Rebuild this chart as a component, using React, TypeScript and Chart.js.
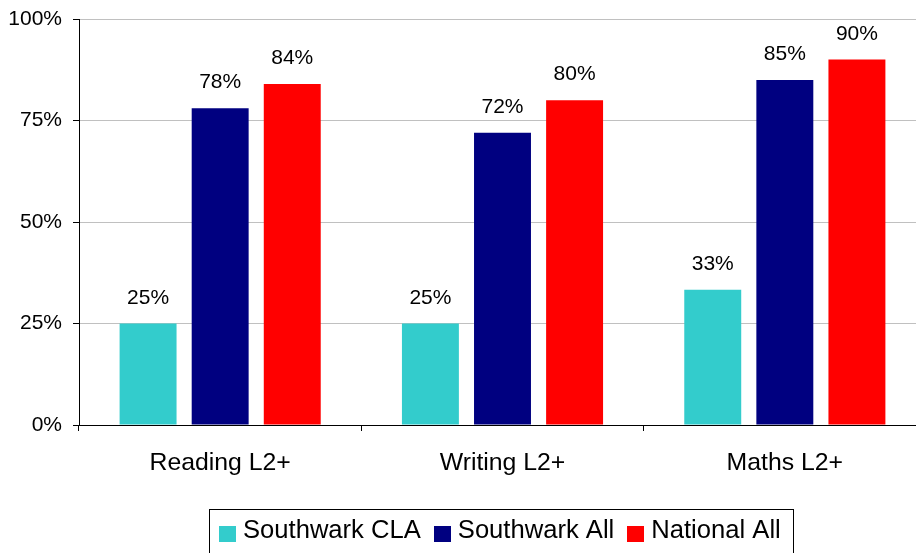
import React, { useEffect, useRef } from 'react';
import { Chart, registerables } from 'chart.js';

Chart.register(...registerables);

const categories = ['Reading L2+', 'Writing L2+', 'Maths L2+'];
const seriesNames = ['Southwark CLA', 'Southwark All', 'National All'];
const southwarkCLA = [25, 25, 33.3];
const southwarkAll = [78, 72, 85];
const nationalAll = [84, 80, 90];
const seriesColors = ['#33CCCC', '#000080', '#FF0000'];
const yMin = 0;
const yMax = 100;
const yStep = 25;

const FAMILY = "'Liberation Sans', Arial, sans-serif";

const dataLabelPlugin = {
  id: 'dataLabels',
  afterDatasetsDraw(chart: any) {
    const ctx = chart.ctx;
    ctx.save();
    ctx.font = `21px ${FAMILY}`;
    ctx.fillStyle = '#000';
    ctx.textAlign = 'center';
    ctx.textBaseline = 'alphabetic';
    chart.data.datasets.forEach((ds: any, i: number) => {
      const meta = chart.getDatasetMeta(i);
      meta.data.forEach((el: any, j: number) => {
        const v = ds.data[j];
        ctx.fillText(Math.round(v) + '%', el.x, el.y - 20);
      });
    });
    ctx.restore();
  },
};

const boxLegendPlugin = {
  id: 'boxLegend',
  afterDraw(chart: any) {
    const ctx = chart.ctx;
    ctx.save();
    ctx.font = `25.6px ${FAMILY}`;
    const items = chart.data.datasets.map((ds: any) => ({
      label: ds.label,
      color: ds.backgroundColor,
      w: ctx.measureText(ds.label).width,
    }));
    const sw = 17, gapT = 7, gapI = 13, padL = 10, padR = 12;
    const inner = items.reduce(
      (a: number, it: any, i: number) => a + sw + gapT + it.w + (i > 0 ? gapI : 0),
      0
    );
    const total = padL + inner + padR;
    const cx = (chart.chartArea.left + chart.chartArea.right) / 2 - 1.5;
    const left = Math.round(cx - total / 2);
    const top = chart.chartArea.bottom + 84;
    ctx.fillStyle = '#fff';
    ctx.fillRect(left, top, total, 60);
    ctx.strokeStyle = '#000';
    ctx.lineWidth = 1;
    ctx.strokeRect(left + 0.5, top + 0.5, Math.round(total), 60);
    let x = left + padL;
    ctx.textBaseline = 'alphabetic';
    ctx.textAlign = 'left';
    items.forEach((it: any, i: number) => {
      if (i > 0) x += gapI;
      ctx.fillStyle = it.color;
      ctx.fillRect(Math.round(x), top + 17, sw, 16);
      x += sw + gapT;
      ctx.fillStyle = '#000';
      ctx.fillText(it.label, x, top + 29);
      x += it.w;
    });
    ctx.restore();
  },
};

export default function App() {
  const ref = useRef<HTMLCanvasElement | null>(null);

  useEffect(() => {
    if (!ref.current) return;
    const seriesData = [southwarkCLA, southwarkAll, nationalAll];
    const chart = new Chart(ref.current, {
      type: 'bar',
      data: {
        labels: categories,
        datasets: seriesNames.map((name, i) => ({
          label: name,
          data: seriesData[i],
          backgroundColor: seriesColors[i],
          borderWidth: 0,
          categoryPercentage: 0.766,
          barPercentage: 0.79,
        })),
      },
      options: {
        responsive: false,
        animation: false,
        devicePixelRatio: 1,
        layout: { padding: { left: 0, right: 0, top: 19, bottom: 64 } },
        plugins: {
          legend: { display: false },
          tooltip: { enabled: false },
        },
        scales: {
          x: {
            grid: {
              display: true,
              drawOnChartArea: false,
              offset: true,
              tickLength: 6,
              color: '#000',
              tickColor: '#000',
            },
            border: { color: '#000', width: 1 },
            ticks: {
              font: { family: FAMILY, size: 24.8 },
              color: '#000',
              padding: 17,
              maxRotation: 0,
            },
            afterFit: (s: any) => {
              s.height = 64;
              s.paddingLeft = 0;
              s.paddingRight = 0;
            },
          },
          y: {
            min: yMin,
            max: yMax,
            ticks: {
              stepSize: yStep,
              callback: (v: any) => v + '%',
              font: { family: FAMILY, size: 21 },
              color: '#000',
              padding: 11,
            },
            grid: {
              color: '#C0C0C0',
              tickColor: '#000',
              tickLength: 6,
            },
            border: { color: '#000', width: 1 },
            afterFit: (s: any) => {
              s.width = 79;
              s.paddingTop = 0;
              s.paddingBottom = 0;
            },
          },
        },
      },
      plugins: [dataLabelPlugin, boxLegendPlugin],
    });
    return () => chart.destroy();
  }, []);

  return (
    <div
      style={{
        position: 'fixed',
        left: 0,
        top: 0,
        width: 916,
        height: 553,
        overflow: 'hidden',
        background: '#fff',
      }}
    >
      <canvas ref={ref} width={926} height={553} style={{ display: 'block' }} />
    </div>
  );
}
